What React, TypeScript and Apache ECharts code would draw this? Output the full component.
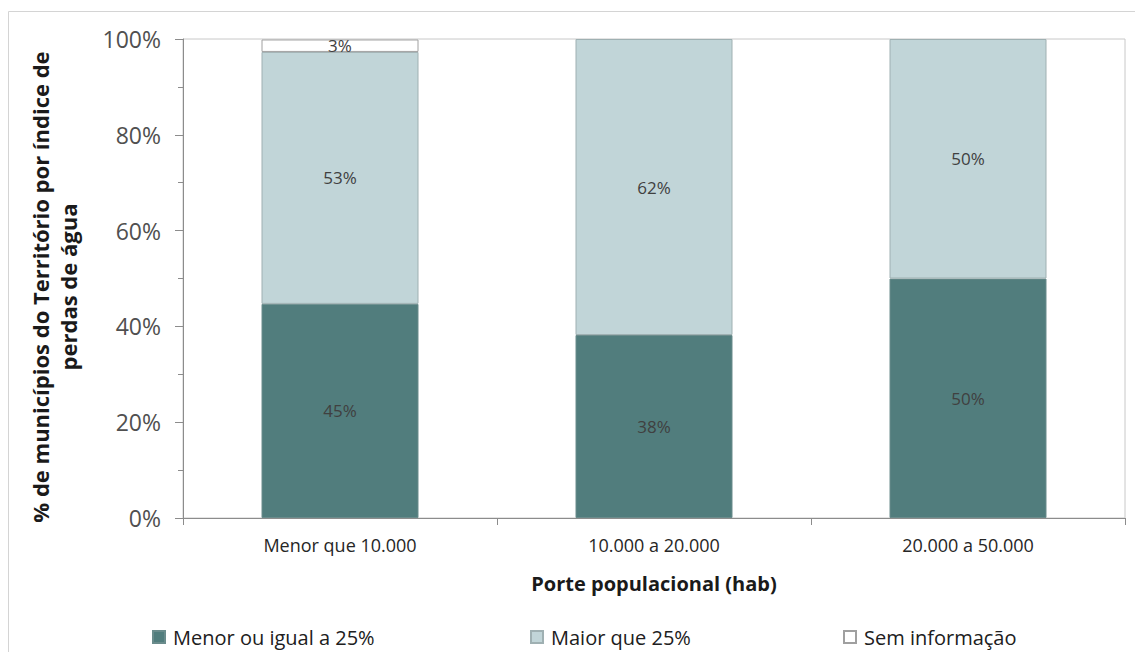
import React, { useEffect, useRef } from "react";
import * as echarts from "echarts";

const categories = ["Menor que 10.000", "10.000 a 20.000", "20.000 a 50.000"];
const seriesNames = ["Menor ou igual a 25%", "Maior que 25%", "Sem informação"];
const menorIgual25 = [44.7, 38.2, 50];
const maior25 = [52.6, 61.8, 50];
const semInfo: (number | null)[] = [2.6, null, null];
const yTicks = ["0%", "20%", "40%", "60%", "80%", "100%"];

const FONT = "'Open Sans', 'Noto Sans', sans-serif";

export default function App() {
  const ref = useRef<HTMLDivElement>(null);
  useEffect(() => {
    if (!ref.current) return;
    const chart = echarts.init(ref.current, undefined, { renderer: "svg" });
    const label = {
      show: true,
      position: "inside",
      color: "#404040",
      fontSize: 17,
      fontFamily: FONT,
      formatter: (p: any) => (p.value == null ? "" : Math.round(p.value) + "%"),
    };
    const legendBase = {
      top: 627,
      padding: 0,
      itemWidth: 12,
      itemHeight: 12,
      itemGap: 8,
      icon: "rect",
      textStyle: { fontSize: 20, color: "#202020", fontFamily: FONT, padding: [0, 0, 0, 3] },
      selectedMode: false,
    };
    chart.setOption({
      animation: false,
      backgroundColor: "#ffffff",
      textStyle: { fontFamily: FONT },
      grid: {
        left: 183,
        top: 39,
        right: 10,
        bottom: 134,
        show: true,
        borderColor: "#c8c8c8",
        borderWidth: 1,
      },
      graphic: [
        {
          type: "rect",
          shape: { x: 8.5, y: 11.5, width: 1140, height: 660 },
          style: { fill: "none", stroke: "#d4d4d4", lineWidth: 1 },
          silent: true,
          z: -10,
        },
        {
          type: "text",
          x: 54,
          y: 287,
          rotation: Math.PI / 2,
          style: {
            text: "% de municípios do Território por índice de\nperdas de água",
            fontSize: 22,
            fontWeight: "bold",
            fontFamily: FONT,
            fill: "#1a1a1a",
            align: "center",
            verticalAlign: "middle",
            lineHeight: 28,
          },
        },
      ],
      legend: [
        { ...legendBase, left: 152, data: [seriesNames[0]] },
        { ...legendBase, left: 530, data: [seriesNames[1]] },
        { ...legendBase, left: 843, data: [seriesNames[2]] },
      ],
      xAxis: {
        type: "category",
        data: categories,
        name: "Porte populacional (hab)",
        nameLocation: "middle",
        nameGap: 55,
        nameTextStyle: { fontSize: 20, fontWeight: "bold", color: "#1a1a1a", fontFamily: FONT },
        axisLine: { lineStyle: { color: "#8c8c8c", width: 1 } },
        axisTick: { show: true, length: 7, lineStyle: { color: "#8c8c8c" } },
        axisLabel: { fontSize: 18, color: "#262626", margin: 18, fontFamily: FONT },
      },
      yAxis: {
        type: "value",
        min: 0,
        max: 100,
        interval: 20,
        axisLine: { show: true, lineStyle: { color: "#8c8c8c", width: 1 } },
        axisTick: { show: true, length: 8, lineStyle: { color: "#8c8c8c" } },
        minorTick: { show: true, splitNumber: 2, length: 5, lineStyle: { color: "#8c8c8c" } },
        splitLine: { show: false },
        axisLabel: {
          fontSize: 23,
          color: "#505050",
          margin: 22,
          fontFamily: FONT,
          formatter: (v: number) => yTicks[Math.round(v / 20)],
        },
      },
      series: [
        {
          name: seriesNames[0],
          type: "bar",
          stack: "total",
          barWidth: "50%",
          data: menorIgual25,
          itemStyle: { color: "#517d7d", borderColor: "#6a8c8c", borderWidth: 1 },
          label,
        },
        {
          name: seriesNames[1],
          type: "bar",
          stack: "total",
          data: maior25,
          itemStyle: { color: "#c1d5d8", borderColor: "#9fb0b2", borderWidth: 1 },
          label,
        },
        {
          name: seriesNames[2],
          type: "bar",
          stack: "total",
          data: semInfo,
          itemStyle: { color: "#ffffff", borderColor: "#a0a0a0", borderWidth: 1 },
          label,
        },
      ],
    });
    return () => chart.dispose();
  }, []);
  return (
    <div
      ref={ref}
      style={{ position: "fixed", left: 0, top: 0, width: 1135, height: 652 }}
    />
  );
}
